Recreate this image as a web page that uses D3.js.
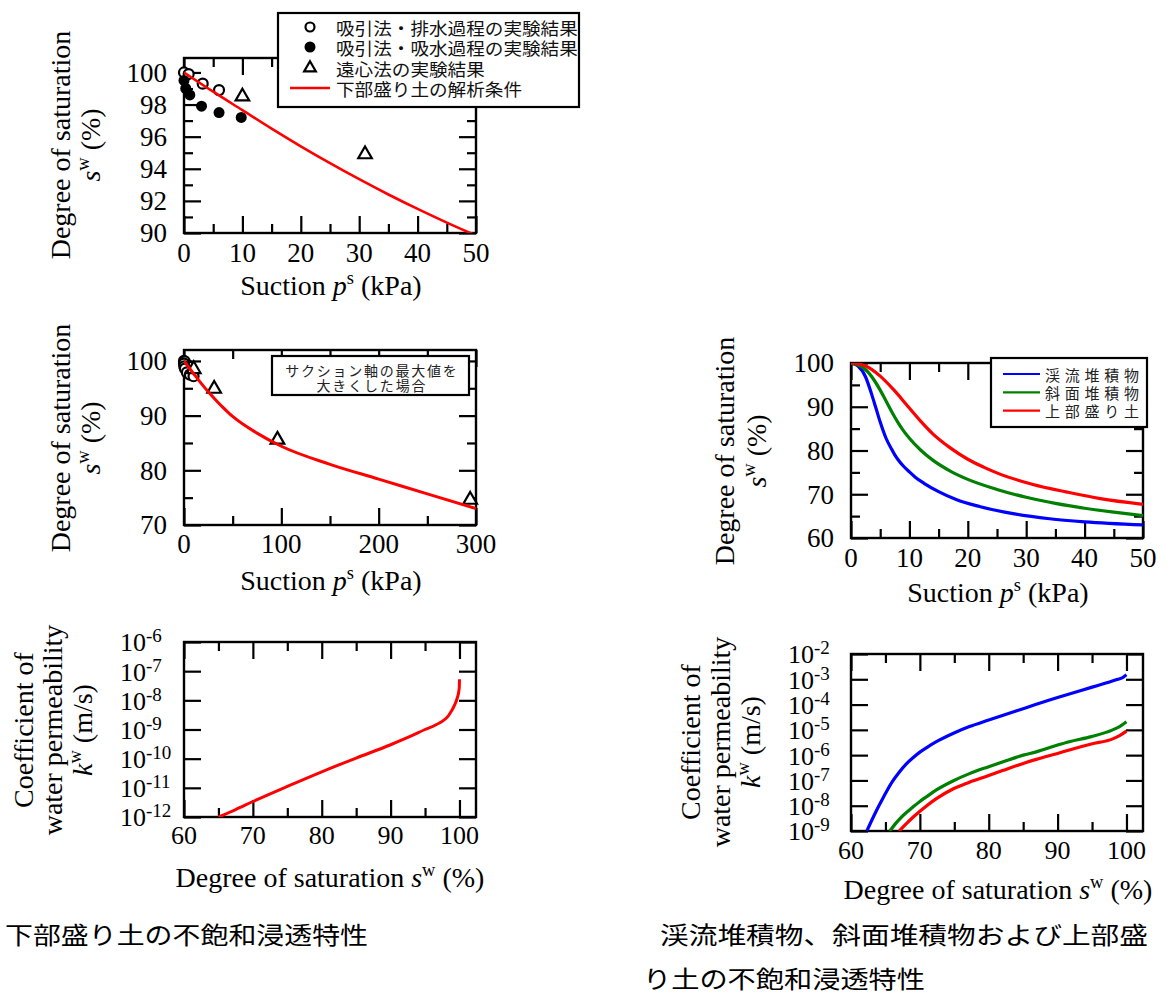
<!DOCTYPE html>
<html><head><meta charset="utf-8">
<script src="https://cdn.jsdelivr.net/npm/d3@7"></script>
<style>body{margin:0;background:#fff}</style>
</head><body>
<svg id="c" width="1170" height="994"></svg>
<script>
// ---------- DATA ----------
// Lower embankment (下部盛り土): experiments
const drainSuction = [0, 0.8, 3.2, 6];
const drainSat = [100, 99.9, 99.3, 98.9];
const wetSuction = [0, 0.3, 1, 3, 6, 9.8];
const wetSat = [99.5, 99.0, 98.6, 97.9, 97.5, 97.2];
const centSuction = [10, 31, 96, 294];
const centSat = [98.5, 94.9, 85.6, 74.6];
// analysis curve (suction kPa, saturation %)
const lowerCurveSuction = [0, 5, 10, 15, 20, 25, 30, 35, 40, 45, 50, 75, 100, 150, 200, 250, 300];
const lowerCurveSat = [100, 98.8, 97.65, 96.5, 95.4, 94.35, 93.35, 92.4, 91.5, 90.65, 89.85, 86.8, 84.4, 81.1, 78.4, 75.7, 73.0];
// permeability of lower embankment (saturation %, k m/s)
const lowerPermSat = [65, 67.5, 70, 75, 80, 85, 90, 93, 95, 96.6, 98.5, 99.3, 99.7, 99.9, 99.98, 100];
const lowerPermK = [1.0e-12, 1.8e-12, 3.4e-12, 1.12e-11, 3.55e-11, 1.05e-10, 3.0e-10, 6.0e-10, 1.0e-9, 1.45e-9, 3.2e-9, 7.0e-9, 1.25e-8, 2.0e-8, 3.0e-8, 5.3e-8];

// Right: water retention curves (suction, saturation)
const keiryuRetention = [[0,100],[1.2,99.3],[2.5,96.8],[3.5,93],[4.2,90],[5,86.5],[6,82.8],[7,80.2],[7.5,79],[8,78],[9,76.4],[10,75.1],[11,73.9],[12.5,72.5],[15,70.6],[18,68.8],[22,67.2],[28,65.5],[34,64.4],[40,63.7],[50,63.0]];
const shamenRetention = [[0,100],[2,99],[3,97.8],[4,96],[5,93.8],[6,91.3],[7,88.8],[8,86.5],[9,84.5],[10,82.8],[12,80],[14,77.8],[17,75.3],[20,73.4],[25,71.1],[30,69.3],[35,67.9],[40,66.8],[45,65.9],[50,65.1]];
const jobuRetention = [[0,100],[2.5,99.3],[5,97],[7.3,93.9],[9.8,90],[11.8,86.9],[14.1,83.7],[17,80.6],[20,78],[22.7,76.2],[25.5,74.6],[31,72.3],[37,70.5],[42.7,69],[50,67.7]];
// Right: permeability (saturation, k)
const keiryuPerm = [[62.3,1.0e-9],[63,2.6e-9],[63.7,6.5e-9],[64.5,1.7e-8],[65.2,3.8e-8],[66,8.9e-8],[67,2.1e-7],[68,4.4e-7],[69,7.9e-7],[70,1.32e-6],[71,2.0e-6],[72.4,3.4e-6],[74.8,7.2e-6],[77.2,1.35e-5],[80,2.45e-5],[82.1,3.8e-5],[85,6.9e-5],[86.9,1.02e-4],[90,1.9e-4],[91.7,2.6e-4],[94.9,4.8e-4],[97,7.1e-4],[98.5,9.5e-4],[99.5,1.2e-3],[100,1.5e-3]];
const shamenPerm = [[65.65,1.0e-9],[66.5,2.0e-9],[67.6,4.2e-9],[69,8.9e-9],[70,1.48e-8],[71,2.3e-8],[72.4,4.2e-8],[74.8,9.5e-8],[77.2,1.86e-7],[80,3.5e-7],[82.1,5.5e-7],[85,1.0e-6],[86.9,1.35e-6],[90,2.5e-6],[91.7,3.4e-6],[94.9,5.4e-6],[98,1.0e-5],[99,1.35e-5],[100,2.1e-5]];
const jobuPerm = [[67.0,1.0e-9],[68,1.9e-9],[69,3.5e-9],[70,6.0e-9],[71,1.0e-8],[72.4,1.9e-8],[74.8,4.6e-8],[77.2,8.5e-8],[80,1.55e-7],[82.1,2.5e-7],[85,4.7e-7],[86.9,6.8e-7],[90,1.17e-6],[91.7,1.6e-6],[94.9,2.75e-6],[98,4.4e-6],[99,5.9e-6],[100,8.9e-6]];

// Tick values
const ticks1X = [0,10,20,30,40,50], ticks1Xm = [5,15,25,35,45];
const ticks1Y = [90,92,94,96,98,100], ticks1Ym = [91,93,95,97,99];
const ticks2X = [0,100,200,300], ticks2Xm = [50,150,250];
const ticks2Y = [70,80,90,100], ticks2Ym = [75,85,95];
const ticksSatX = [60,70,80,90,100], ticksSatXm = [65,75,85,95];
const ticks3Exp = [-12,-11,-10,-9,-8,-7,-6];
const ticks4Y = [60,70,80,90,100], ticks4Ym = [65,75,85,95];
const ticks5Exp = [-9,-8,-7,-6,-5,-4,-3,-2];

// Legend texts
const legend1 = ["吸引法・排水過程の実験結果","吸引法・吸水過程の実験結果","遠心法の実験結果","下部盛り土の解析条件"];
const legend2 = ["サクション軸の最大値を","大きくした場合"];
const legend4 = ["渓流堆積物","斜面堆積物","上部盛り土"];
const colors4 = ["#0000ff","#008000","#ff0000"];
const captionL = "下部盛り土の不飽和浸透特性";
const captionR1 = "渓流堆積物、斜面堆積物および上部盛";
const captionR2 = "り土の不飽和浸透特性";

// ---------- DRAW ----------
const SERIF = "'Liberation Serif','Times New Roman',serif";
const JP = "'Noto Sans CJK JP','Noto Sans JP',sans-serif";
const svg = d3.select("#c");
svg.append("rect").attr("width",1170).attr("height",994).attr("fill","#fff");

let clipId = 0;
function makePanel(c) {
  const g = svg.append("g");
  const x = d3.scaleLinear().domain(c.xd).range([c.l, c.r]);
  const y = (c.log ? d3.scaleLog() : d3.scaleLinear()).domain(c.yd).range([c.b, c.t]);
  const id = "clip" + (clipId++);
  svg.append("clipPath").attr("id", id).append("rect")
    .attr("x", c.l).attr("y", c.t).attr("width", c.r - c.l).attr("height", c.b - c.t);
  const L = 17, S = 9;
  const addAx = (axis, tr) => {
    const a = g.append("g").attr("transform", tr).call(axis);
    a.select(".domain").remove();
    a.selectAll("line").attr("stroke", "#000").attr("stroke-width", 2.2);
  };
  [[c.xMaj, L], [c.xMin, S]].forEach(([v, len]) => {
    addAx(d3.axisBottom(x).tickValues(v).tickSizeInner(-len).tickSizeOuter(0).tickFormat(""), `translate(0,${c.b})`);
    addAx(d3.axisTop(x).tickValues(v).tickSizeInner(-len).tickSizeOuter(0).tickFormat(""), `translate(0,${c.t})`);
  });
  [[c.yMaj, L], [c.yMin, S]].forEach(([v, len]) => {
    addAx(d3.axisLeft(y).tickValues(v).tickSizeInner(-len).tickSizeOuter(0).tickFormat(""), `translate(${c.l},0)`);
    addAx(d3.axisRight(y).tickValues(v).tickSizeInner(-len).tickSizeOuter(0).tickFormat(""), `translate(${c.r},0)`);
  });
  g.append("rect").attr("x", c.l).attr("y", c.t).attr("width", c.r - c.l).attr("height", c.b - c.t)
    .attr("fill", "none").attr("stroke", "#000").attr("stroke-width", 2.4);
  // x labels
  g.selectAll(null).data(c.xMaj).enter().append("text")
    .attr("x", d => x(d)).attr("y", c.b + c.xlOff).attr("text-anchor", "middle")
    .attr("font-family", SERIF).attr("font-size", c.tickFs).text(d => d);
  // y labels
  if (c.log) {
    const t = g.selectAll(null).data(c.yMaj).enter().append("text")
      .attr("x", c.l - c.logOff).attr("y", d => y(d)).attr("dy", "0.36em")
      .attr("font-family", SERIF).attr("font-size", c.tickFs);
    t.append("tspan").text("10");
    t.append("tspan").attr("font-size", 19).attr("dy", -9).text(d => "-" + Math.round(-Math.log10(d)));
  } else {
    g.selectAll(null).data(c.yMaj).enter().append("text")
      .attr("x", c.l - 17).attr("y", d => y(d)).attr("dy", "0.35em").attr("text-anchor", "end")
      .attr("font-family", SERIF).attr("font-size", c.tickFs).text(d => d);
  }
  const inside = d => d[0] >= c.xd[0] && d[0] <= c.xd[1] && d[1] >= c.yd[0] && d[1] <= c.yd[1];
  return { g, x, y, clip: `url(#${id})`, inside };
}

function rich(sel, parts, fs) {
  const t = sel.append("text").attr("font-family", SERIF).attr("font-size", fs);
  let up = false;
  parts.forEach(p => {
    const s = t.append("tspan").text(p.t);
    if (p.i) s.attr("font-style", "italic");
    if (p.sup && !up) { s.attr("font-size", fs * 0.66).attr("dy", -fs * 0.38); up = true; }
    else if (!p.sup && up) { s.attr("dy", fs * 0.38); up = false; }
  });
  return t;
}
function xTitle(parts, cx, by, fs) {
  rich(svg, parts, fs).attr("x", cx).attr("y", by).attr("text-anchor", "middle");
}
function yTitle(lines, bxs, cy, fs) {
  lines.forEach((parts, i) => {
    const gg = svg.append("g").attr("transform", `translate(${bxs[i]},${cy}) rotate(-90)`);
    rich(gg, parts, fs).attr("x", 0).attr("y", 0).attr("text-anchor", "middle");
  });
}
const suctionTitle = [{t:"Suction "},{t:"p",i:true},{t:"s",sup:true},{t:" (kPa)"}];
const satTitleY = [[{t:"Degree of saturation"}],[{t:"s",i:true},{t:"w",sup:true},{t:" (%)"}]];
const satTitleX = [{t:"Degree of saturation "},{t:"s",i:true},{t:"w",sup:true},{t:" (%)"}];
const permTitleY = [[{t:"Coefficient of"}],[{t:"water permeability"}],[{t:"k",i:true},{t:"w",sup:true},{t:" (m/s)"}]];

const zip = (a, b) => a.map((v, i) => [v, b[i]]);
const circleOpen = (p, data, r) => p.g.append("g").selectAll(null).data(data.filter(p.inside)).enter().append("circle")
  .attr("cx", d => p.x(d[0])).attr("cy", d => p.y(d[1])).attr("r", r)
  .attr("fill", "#fff").attr("stroke", "#000").attr("stroke-width", 2.2);
const circleFill = (p, data, r) => p.g.append("g").selectAll(null).data(data.filter(p.inside)).enter().append("circle")
  .attr("cx", d => p.x(d[0])).attr("cy", d => p.y(d[1])).attr("r", r).attr("fill", "#000");
const triSym = d3.symbol().type(d3.symbolTriangle).size(80);
const tris = (p, data) => p.g.append("g").selectAll(null).data(data.filter(p.inside)).enter().append("path")
  .attr("d", triSym).attr("transform", d => `translate(${p.x(d[0])},${p.y(d[1])})`)
  .attr("fill", "#fff").attr("stroke", "#000").attr("stroke-width", 2.2);
const drawLine = (p, data, color, w) => p.g.append("path")
  .attr("d", d3.line().x(d => p.x(d[0])).y(d => p.y(d[1])).curve(d3.curveMonotoneX)(data))
  .attr("fill", "none").attr("stroke", color).attr("stroke-width", w).attr("clip-path", p.clip);

const lowerCurve = zip(lowerCurveSuction, lowerCurveSat);

// Panel 1
const p1 = makePanel({l:184, r:476, t:58, b:233, xd:[0,50], yd:[90,100.9],
  xMaj:ticks1X, xMin:ticks1Xm, yMaj:ticks1Y, yMin:ticks1Ym, tickFs:27, xlOff:29});
circleOpen(p1, zip(drainSuction, drainSat), 5);
circleFill(p1, zip(wetSuction, wetSat), 5.5);
tris(p1, zip(centSuction, centSat));
drawLine(p1, lowerCurve, "#ff0000", 2.6);
xTitle(suctionTitle, 331, 295, 28);
yTitle(satTitleY, [70, 100], 145, 28);
// legend 1
{
  const lg = svg.append("g");
  lg.append("rect").attr("x", 278).attr("y", 13).attr("width", 301).attr("height", 94)
    .attr("fill", "#fff").attr("stroke", "#000").attr("stroke-width", 2.2);
  const ys = [27, 47, 68, 88];
  lg.append("circle").attr("cx", 310).attr("cy", ys[0]).attr("r", 4.5).attr("fill", "#fff").attr("stroke", "#000").attr("stroke-width", 2.2);
  lg.append("circle").attr("cx", 310).attr("cy", ys[1]).attr("r", 5.5).attr("fill", "#000");
  lg.append("path").attr("d", d3.symbol().type(d3.symbolTriangle).size(60)).attr("transform", `translate(310,${ys[2]})`)
    .attr("fill", "#fff").attr("stroke", "#000").attr("stroke-width", 2.2);
  lg.append("line").attr("x1", 290).attr("x2", 330).attr("y1", ys[3]).attr("y2", ys[3]).attr("stroke", "#ff0000").attr("stroke-width", 2.4);
  legend1.forEach((t, i) => lg.append("text").attr("x", 336).attr("y", ys[i]).attr("dominant-baseline", "central")
    .attr("font-family", JP).attr("font-size", 17.5).attr("fill", "#111")
    .attr("textLength", t.length * 18.6).attr("lengthAdjust", "spacingAndGlyphs").text(t));
}

// Panel 2
const p2 = makePanel({l:184, r:476, t:350, b:525, xd:[0,300], yd:[70,102],
  xMaj:ticks2X, xMin:ticks2Xm, yMaj:ticks2Y, yMin:ticks2Ym, tickFs:27, xlOff:28});
circleOpen(p2, zip(drainSuction, drainSat), 5);
circleOpen(p2, zip(wetSuction, wetSat), 5);
tris(p2, zip(centSuction, centSat));
drawLine(p2, lowerCurve, "#ff0000", 3);
xTitle(suctionTitle, 331, 590, 28);
yTitle(satTitleY, [70, 100], 438, 28);
{
  const lg = svg.append("g");
  lg.append("rect").attr("x", 272).attr("y", 356).attr("width", 197).attr("height", 39)
    .attr("fill", "#fff").attr("stroke", "#000").attr("stroke-width", 2.2);
  legend2.forEach((t, i) => lg.append("text").attr("x", 371).attr("y", [369.5, 385][i]).attr("dominant-baseline", "central")
    .attr("text-anchor", "middle").attr("font-family", JP).attr("font-size", 14).attr("fill", "#222")
    .attr("textLength", t.length * 15.6).attr("lengthAdjust", "spacing").text(t));
}

// Panel 3
const p3 = makePanel({l:184, r:476, t:642, b:817, xd:[60,102.4], yd:[1e-12,1e-6], log:true,
  xMaj:ticksSatX, xMin:ticksSatXm, yMaj:ticks3Exp.map(e => Math.pow(10, e)), yMin:[], tickFs:26, xlOff:27, logOff:64});
drawLine(p3, zip(lowerPermSat, lowerPermK), "#ff0000", 3);
xTitle(satTitleX, 330, 887, 28);
yTitle(permTitleY, [33, 62, 92], 730, 28);

// Panel 4
const p4 = makePanel({l:851, r:1143, t:363, b:538, xd:[0,50], yd:[60,100],
  xMaj:ticks1X, xMin:ticks1Xm, yMaj:ticks4Y, yMin:ticks4Ym, tickFs:27, xlOff:29});
[keiryuRetention, shamenRetention, jobuRetention].forEach((d, i) => drawLine(p4, d, colors4[i], 3.2));
xTitle(suctionTitle, 998, 602, 28);
yTitle(satTitleY, [734, 766], 451, 28);
{
  const lg = svg.append("g");
  lg.append("rect").attr("x", 991).attr("y", 358).attr("width", 156).attr("height", 69)
    .attr("fill", "#fff").attr("stroke", "#000").attr("stroke-width", 2.2);
  const ys = [374, 392.3, 410.7];
  legend4.forEach((t, i) => {
    lg.append("line").attr("x1", 1003).attr("x2", 1040).attr("y1", ys[i]).attr("y2", ys[i]).attr("stroke", colors4[i]).attr("stroke-width", 2.2);
    lg.append("text").attr("x", 1045).attr("y", ys[i]).attr("dominant-baseline", "central")
      .attr("font-family", JP).attr("font-size", 15).attr("fill", "#222")
      .attr("textLength", 94).attr("lengthAdjust", "spacing").text(t);
  });
}

// Panel 5
const p5 = makePanel({l:851, r:1143, t:654, b:831, xd:[60,102.4], yd:[1e-9,1e-2], log:true,
  xMaj:ticksSatX, xMin:ticksSatXm, yMaj:ticks5Exp.map(e => Math.pow(10, e)), yMin:[], tickFs:26, xlOff:27.5, logOff:63});
[keiryuPerm, shamenPerm, jobuPerm].forEach((d, i) => drawLine(p5, d, colors4[i], 3.2));
xTitle(satTitleX, 998, 899, 28);
yTitle(permTitleY, [700, 730, 760], 742, 28);

// Captions
const cap = (t, x, y, len) => svg.append("text").attr("x", x).attr("y", y).attr("dominant-baseline", "central")
  .attr("font-family", JP).attr("font-size", 24).attr("fill", "#000")
  .attr("textLength", len).attr("lengthAdjust", "spacingAndGlyphs").text(t);
cap(captionL, 5, 933, 363);
cap(captionR1, 660, 933, 488);
cap(captionR2, 643, 977, 282);
</script>
</body></html>
